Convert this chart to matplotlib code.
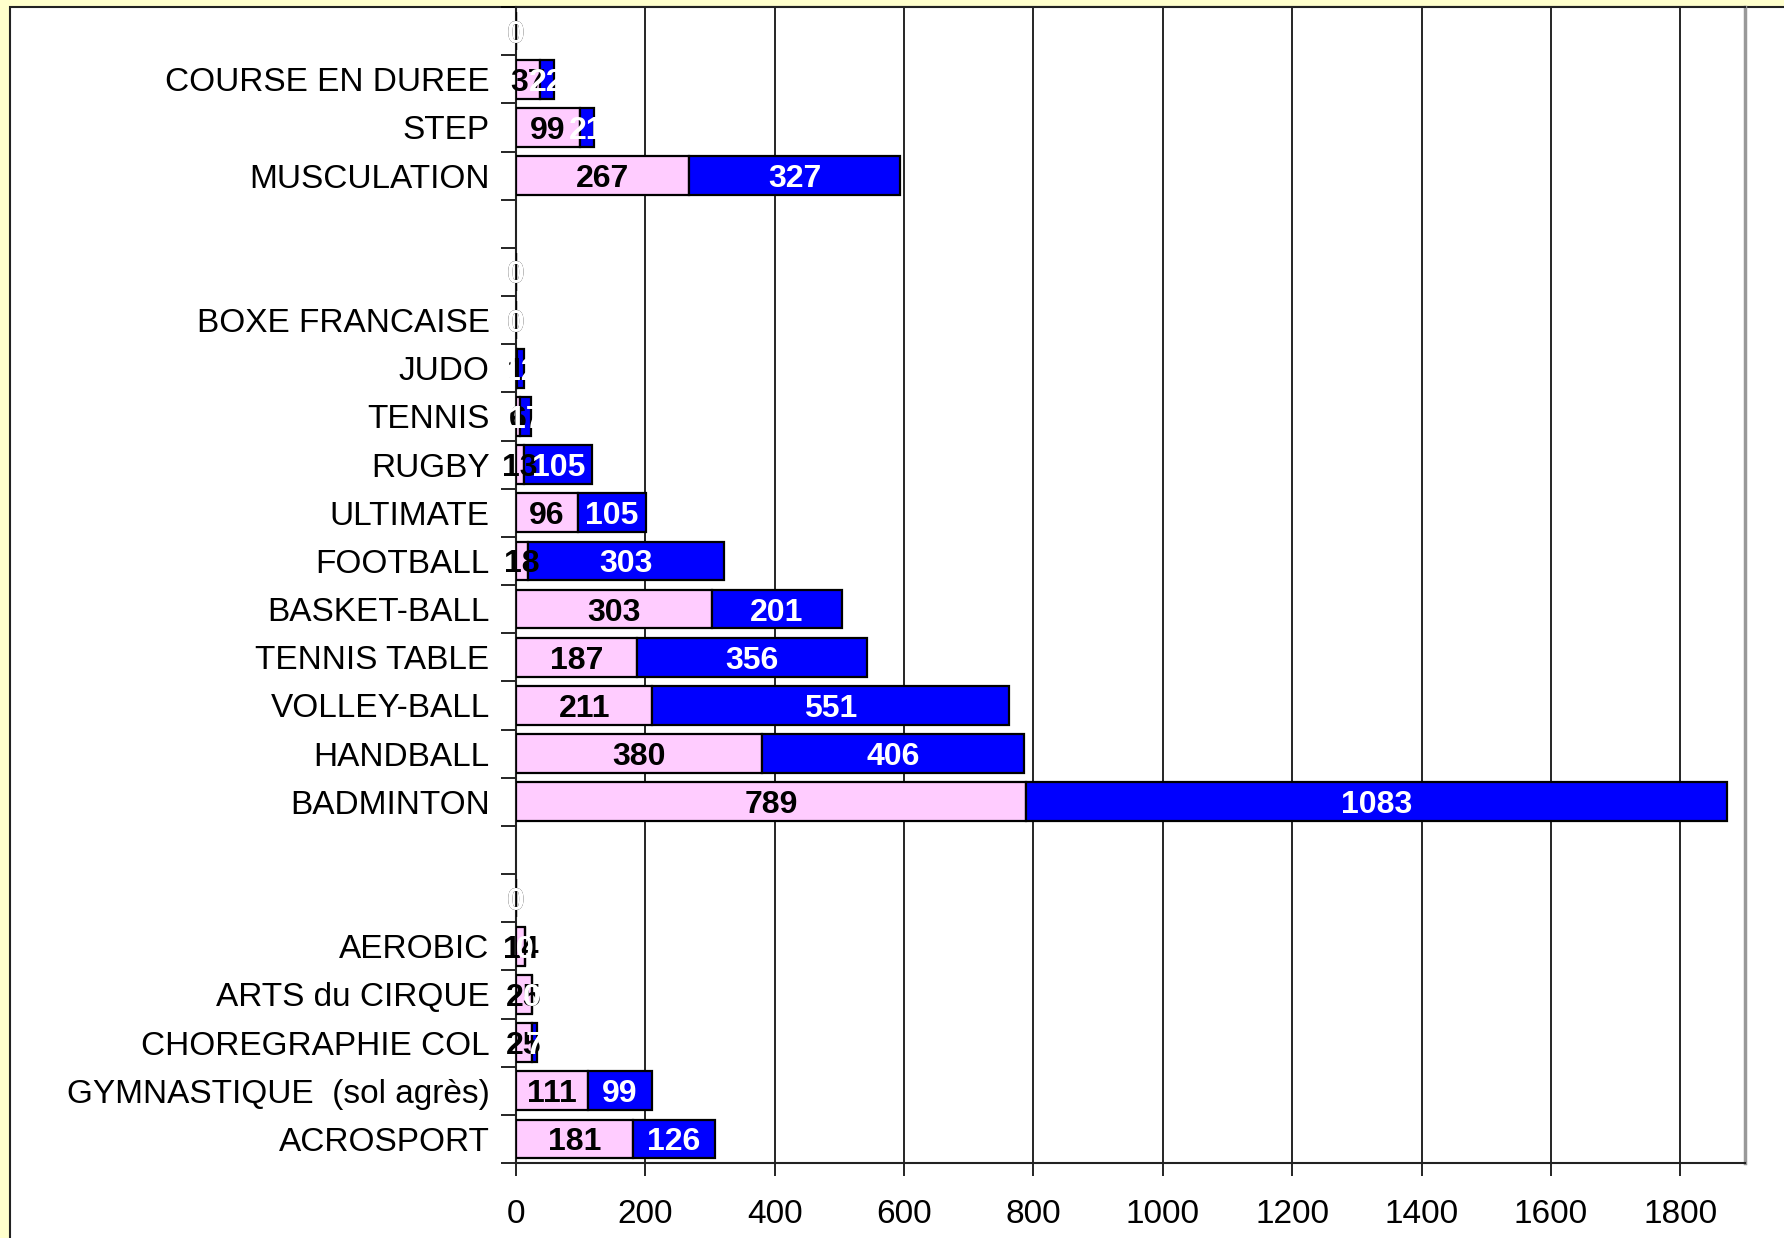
import matplotlib
matplotlib.use("Agg")
import matplotlib.pyplot as plt
from matplotlib.patches import Rectangle
import numpy as np

plt.rcParams['font.family'] = ['Liberation Sans', 'DejaVu Sans']

#------
# data (top to bottom), None = empty row
categories = ["", "COURSE EN DUREE", "STEP", "MUSCULATION", "", "",
              "BOXE FRANCAISE", "JUDO", "TENNIS", "RUGBY", "ULTIMATE",
              "FOOTBALL", "BASKET-BALL", "TENNIS TABLE", "VOLLEY-BALL",
              "HANDBALL", "BADMINTON", "", "",
              "AEROBIC", "ARTS du CIRQUE", "CHOREGRAPHIE COL",
              "GYMNASTIQUE  (sol agrès)", "ACROSPORT"]
filles = [0, 37, 99, 267, None, 0,
          0, 1, 6, 13, 96,
          18, 303, 187, 211,
          380, 789, None, 0,
          14, 25, 25,
          111, 181]
garcons = [0, 22, 21, 327, None, 0,
           0, 12, 17, 105, 105,
           303, 201, 356, 551,
           406, 1083, None, 0,
           0, 0, 7,
           99, 126]

pink = "#FFCCFF"
blue = "#0000FF"

#------
fig = plt.figure(figsize=(17.84, 12.38), dpi=100, facecolor="#FFFFCC")

# white chart frame
frame = Rectangle((10/1784, -0.05), 1.2, 1.05 - 7/1238,
                  transform=fig.transFigure, facecolor="white",
                  edgecolor="#222222", linewidth=1.5, zorder=-1)
fig.patches.append(frame)

ax = fig.add_axes([516/1784, 75/1238, (1745-516)/1784, (1231-75)/1238])
ax.set_zorder(1)
ax.set_facecolor("white")

y = np.arange(len(categories))
for i in range(len(categories)):
    if filles[i] is None:
        continue
    f = filles[i]
    g = garcons[i]
    ax.barh(y[i], f, height=0.8, color=pink, edgecolor="black", linewidth=1.6, zorder=3)
    ax.barh(y[i], g, left=f, height=0.8, color=blue, edgecolor="black", linewidth=1.6, zorder=3)
    ax.text(f/2, y[i], str(f), ha="center", va="center_baseline", fontsize=23,
            fontweight="bold", color="black", zorder=5)
    ax.text(f + g/2, y[i], str(g), ha="center", va="center_baseline", fontsize=23,
            fontweight="bold", color="white", zorder=6)

ax.set_xlim(0, 1900)
ax.set_ylim(len(categories) - 0.5, -0.5)
ax.set_xticks(np.arange(0, 2000, 200))
ax.set_yticks(y)
ax.set_yticklabels(categories)
ax.set_yticks(np.arange(-0.5, len(categories), 1), minor=True)
ax.tick_params(axis="y", which="major", length=0, pad=19, labelsize=24)
ax.tick_params(axis="y", which="minor", length=11, width=1.2, color="black")
ax.tick_params(axis="x", length=9, width=1.2, pad=17, labelsize=24)
ax.xaxis.grid(True, color="black", linewidth=1.2, zorder=0)
ax.set_axisbelow(True)

for s in ["left", "bottom", "top"]:
    ax.spines[s].set_color("#222222")
    ax.spines[s].set_linewidth(1.5)
ax.spines["right"].set_color("#999999")
ax.spines["right"].set_linewidth(2.5)

fig.savefig("out.png", dpi=100, facecolor=fig.get_facecolor())
